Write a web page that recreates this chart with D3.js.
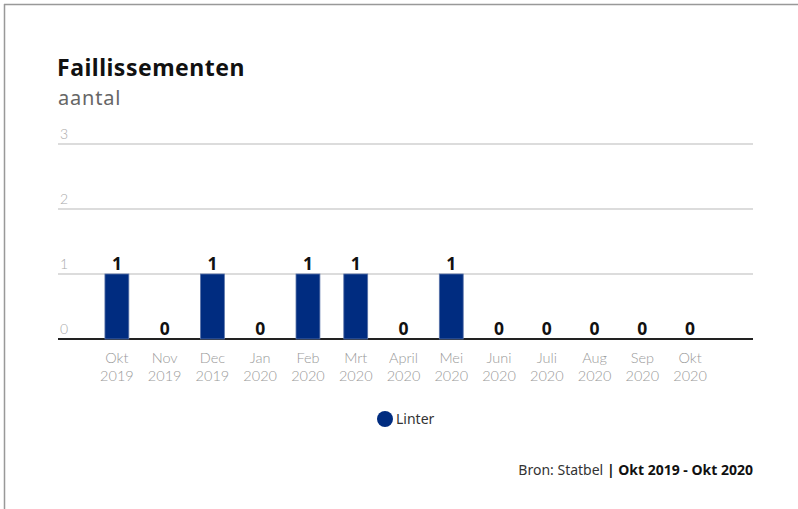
<!DOCTYPE html>
<html>
<head>
<meta charset="utf-8">
<script src="https://cdnjs.cloudflare.com/ajax/libs/d3/7.8.5/d3.min.js"></script>
<style>
  body { margin: 0; background: #fff; }
  svg { display: block; font-family: Lato, "Noto Sans", sans-serif; }
  .ns { font-family: "Noto Sans", sans-serif; }
</style>
</head>
<body>
<div id="vis"></div>
<script>

var months = ['Okt', 'Nov', 'Dec', 'Jan', 'Feb', 'Mrt', 'April', 'Mei', 'Juni', 'Juli', 'Aug', 'Sep', 'Okt'];
var years = ['2019', '2019', '2019', '2020', '2020', '2020', '2020', '2020', '2020', '2020', '2020', '2020', '2020'];
var linter = [1, 0, 1, 0, 1, 1, 0, 1, 0, 0, 0, 0, 0];
var yTicks = [0, 1, 2, 3];

var width = 798;
var height = 509;
var navy = '#002c80';

var svg = d3.select('#vis')
  .append('svg')
  .attr('width', width)
  .attr('height', height);

// frame (top and left edge only, the rest is cut off)
svg.append('line').attr('x1', 4).attr('x2', width).attr('y1', 4.5).attr('y2', 4.5)
  .attr('stroke', '#999').attr('stroke-width', 1.5);
svg.append('line').attr('x1', 4.5).attr('x2', 4.5).attr('y1', 4).attr('y2', height)
  .attr('stroke', '#999').attr('stroke-width', 1.5);

// titles
svg.append('text')
  .attr('class', 'ns')
  .attr('x', 57).attr('y', 76)
  .attr('font-size', 23).attr('font-weight', 'bold').attr('fill', '#111')
  .attr('letter-spacing', 0.5)
  .text('Faillissementen');
svg.append('text')
  .attr('class', 'ns')
  .attr('x', 58).attr('y', 105)
  .attr('font-size', 20).attr('fill', '#666')
  .attr('letter-spacing', 0.8)
  .text('aantal');

var idx = d3.range(months.length);

var x = d3.scaleBand()
  .domain(idx)
  .range([93, 714])
  .paddingInner(0.5)
  .paddingOuter(0.25);

var y = d3.scaleLinear()
  .domain([0, 3])
  .range([339, 144]);

// grid
var grid = svg.append('g');
grid.selectAll('line')
  .data(yTicks.filter(function(d) { return d > 0; }))
  .enter().append('line')
  .attr('x1', 58).attr('x2', 753)
  .attr('y1', function(d) { return y(d); })
  .attr('y2', function(d) { return y(d); })
  .attr('stroke', '#dcdcdc')
  .attr('stroke-width', 2);

grid.selectAll('text')
  .data(yTicks)
  .enter().append('text')
  .attr('x', 60)
  .attr('y', function(d) { return y(d) - 5; })
  .attr('font-size', 14).attr('font-weight', 300).attr('fill', '#aaa')
  .text(function(d) { return d; });

// baseline
svg.append('line')
  .attr('x1', 58).attr('x2', 753)
  .attr('y1', y(0)).attr('y2', y(0))
  .attr('stroke', '#222').attr('stroke-width', 2);

// bars
svg.selectAll('.bar')
  .data(idx)
  .enter().append('rect')
  .attr('class', 'bar')
  .attr('x', function(i) { return x(i); })
  .attr('width', x.bandwidth())
  .attr('y', function(i) { return y(linter[i]); })
  .attr('height', function(i) { return y(0) - y(linter[i]); })
  .attr('fill', navy)
  .attr('stroke', function(i) { return linter[i] > 0 ? '#5a73a8' : '#e2e2e2'; })
  .attr('stroke-width', function(i) { return linter[i] > 0 ? 0.8 : 2; });

// value labels
svg.selectAll('.val')
  .data(idx)
  .enter().append('text')
  .attr('class', 'val ns')
  .attr('x', function(i) { return x(i) + x.bandwidth() / 2; })
  .attr('y', function(i) { return y(linter[i]) - 4; })
  .attr('text-anchor', 'middle')
  .attr('font-size', 17.5).attr('font-weight', 'bold').attr('fill', '#111')
  .text(function(i) { return linter[i]; });

// x labels
var xl = svg.selectAll('.xl')
  .data(idx)
  .enter().append('text')
  .attr('class', 'xl')
  .attr('text-anchor', 'middle')
  .attr('font-size', 14.5).attr('font-weight', 300).attr('fill', '#999');
xl.append('tspan')
  .attr('x', function(i) { return x(i) + x.bandwidth() / 2; })
  .attr('y', 363)
  .text(function(i) { return months[i]; });
xl.append('tspan')
  .attr('x', function(i) { return x(i) + x.bandwidth() / 2; })
  .attr('y', 381)
  .text(function(i) { return years[i]; });

// legend
svg.append('circle').attr('cx', 385).attr('cy', 419).attr('r', 8).attr('fill', navy);
svg.append('text')
  .attr('class', 'ns')
  .attr('x', 396).attr('y', 424)
  .attr('font-size', 14).attr('fill', '#333')
  .text('Linter');

// source
var src = svg.append('text')
  .attr('class', 'ns')
  .attr('x', 753).attr('y', 475)
  .attr('text-anchor', 'end')
  .attr('font-size', 14).attr('fill', '#333');
src.append('tspan').text('Bron: Statbel ');
src.append('tspan').attr('font-weight', 'bold').attr('fill', '#111').text('| Okt 2019 - Okt 2020');

</script>
</body>
</html>
